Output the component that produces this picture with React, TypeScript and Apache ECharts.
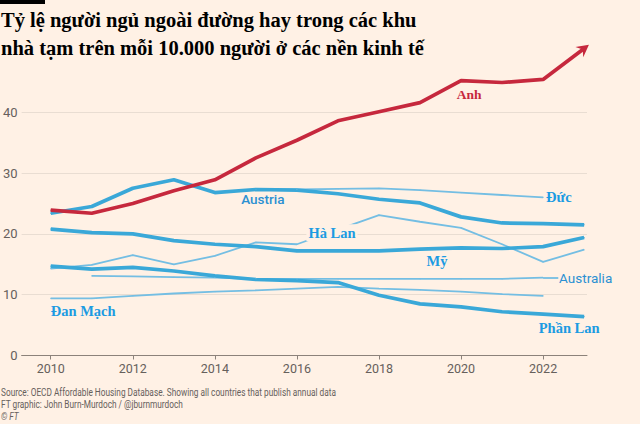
import React, { useEffect, useRef } from "react";
import * as echarts from "echarts";

const years = [2010, 2011, 2012, 2013, 2014, 2015, 2016, 2017, 2018, 2019, 2020, 2021, 2022, 2023];
const anh = [23.9, 23.4, 25.0, 27.1, 28.9, 32.5, 35.4, 38.6, 40.1, 41.6, 45.2, 44.9, 45.4, 50.5];
const austria = [23.4, 24.5, 27.5, 28.9, 26.8, 27.3, 27.2, 26.6, 25.7, 25.1, 22.8, 21.8, 21.7, 21.5];
const duc = [null, null, null, null, null, 27.3, 27.3, 27.4, 27.5, 27.2, 26.8, 26.4, 26.0, null];
const haLan = [14.3, 14.9, 16.5, 15.0, 16.4, 18.6, 18.3, 20.7, 23.1, 22.0, 21.0, 18.3, 15.4, 17.4];
const my = [20.8, 20.2, 20.0, 18.9, 18.3, 17.9, 17.2, 17.2, 17.2, 17.5, 17.7, 17.6, 17.9, 19.4];
const phanLan = [14.7, 14.2, 14.5, 13.9, 13.1, 12.5, 12.3, 12.0, 9.9, 8.5, 8.0, 7.2, 6.8, 6.4];
const australia = [null, 13.1, 13.0, 12.9, 12.8, 12.6, 12.6, 12.6, 12.6, 12.6, 12.6, 12.6, 12.8, null];
const danMach = [9.4, 9.4, 9.8, 10.2, 10.5, 10.7, 11.0, 11.3, 11.0, 10.8, 10.5, 10.1, 9.8, null];
const xTicks = [2010, 2012, 2014, 2016, 2018, 2020, 2022];

const titleLines = [
  "Tỷ lệ người ngủ ngoài đường hay trong các khu",
  "nhà tạm trên mỗi 10.000 người ở các nền kinh tế",
];
const sourceLines = [
  "Source: OECD Affordable Housing Database. Showing all countries that publish annual data",
  "FT graphic: John Burn-Murdoch / @jburnmurdoch",
  "© FT",
];

const BG = "#FFF1E5";
const THICK = "#3AA8D8";
const THIN = "#74BEE3";
const RED = "#C6283D";
const LBL = "#1C9BE2";
const SANSLBL = "#2B90D2";
const AXIS_TXT = "#66605C";
const SERIF = '"Liberation Serif", "DejaVu Serif", serif';
const SANS = 'Roboto, "Noto Sans", sans-serif';

type Pt = [number, number];

function pairs(vals: (number | null)[]): Pt[] {
  const out: Pt[] = [];
  years.forEach((y, i) => {
    const v = vals[i];
    if (v !== null && v !== undefined) out.push([y, v]);
  });
  return out;
}

function labelAt(data: Pt[], year: number, label: any, extra: any = {}) {
  return data.map((d) => (d[0] === year ? { value: d, label: { show: true, ...label }, ...extra } : d));
}

const serifLabel = (text: string, color = LBL, size = 14.5) => ({
  formatter: text,
  color,
  fontFamily: SERIF,
  fontWeight: "bold",
  fontSize: size,
});

export default function App() {
  const ref = useRef<HTMLDivElement>(null);

  useEffect(() => {
    if (!ref.current) return;
    const chart = echarts.init(ref.current, null, { renderer: "svg" });

    const thinBase = (color: string) => ({
      type: "line",
      symbol: "circle",
      symbolSize: 1,
      showSymbol: true,
      itemStyle: { color },
      lineStyle: { width: 1.8, color },
      emphasis: { disabled: true },
      silent: true,
      clip: false,
    });
    const thickBase = (color: string) => ({
      type: "line",
      symbol: "circle",
      symbolSize: 1,
      showSymbol: true,
      itemStyle: { color },
      lineStyle: { width: 3.7, color },
      emphasis: { disabled: true },
      silent: true,
      clip: false,
    });

    const anhData: any[] = labelAt(pairs(anh), 2020, {
      ...serifLabel("Anh", RED, 13.5),
      position: "bottom",
      distance: 6,
      offset: [8, 0],
    });
    const last = anhData.length - 1;
    anhData[last] = {
      value: anhData[last],
      symbol: "path://M0,20 L10,0 L20,20 L10,13 Z",
      symbolSize: [13, 12],
      symbolRotate: -53,
      itemStyle: { color: RED },
    };

    const option: any = {
      animation: false,
      backgroundColor: BG,
      grid: { left: 20, right: 53, top: 51.5, bottom: 68.5, containLabel: false },
      xAxis: {
        type: "value",
        min: 2009.29,
        max: 2023.07,
        axisLine: { show: true, lineStyle: { color: "#8C827A", width: 1 } },
        axisTick: { show: true, customValues: xTicks, length: 4, lineStyle: { color: "#8C827A" } },
        axisLabel: {
          customValues: xTicks,
          formatter: (v: number) => String(v),
          color: AXIS_TXT,
          fontSize: 12.5,
          fontFamily: SANS,
          margin: 6,
        },
        splitLine: { show: false },
      },
      yAxis: {
        type: "value",
        min: 0,
        max: 50,
        interval: 10,
        axisLine: { show: false },
        axisTick: { show: false },
        axisLabel: {
          showMaxLabel: false,
          color: AXIS_TXT,
          fontSize: 13,
          fontFamily: SANS,
          margin: 4,
        },
        splitLine: {
          show: true,
          showMaxLine: false,
          showMinLine: false,
          lineStyle: { color: "#E9DDD2", width: 1 },
        },
      },
      series: [
        {
          ...thinBase(THIN),
          name: "Đan Mạch",
          data: labelAt(pairs(danMach), 2010, {
            ...serifLabel("Đan Mạch"),
            position: "bottom",
            distance: 5,
            align: "left",
          }),
        },
        {
          ...thinBase(THIN),
          name: "Australia",
          data: pairs(australia),
          endLabel: {
            show: true,
            formatter: "Australia",
            color: SANSLBL,
            fontFamily: SANS,
            fontSize: 13.5,
            distance: 16,
          },
          markLine: {
            silent: true,
            symbol: "none",
            label: { show: false },
            lineStyle: { color: THIN, width: 1.8, type: "solid" },
            data: [[{ coord: [2022, 12.8] }, { coord: [2022.37, 12.8] }]],
          },
        },
        {
          ...thinBase(THIN),
          name: "Hà Lan",
          z: 3,
          data: labelAt(pairs(haLan), 2017, {
            ...serifLabel("Hà Lan"),
            position: "inside",
            offset: [-6, 3],
            backgroundColor: BG,
            padding: [1, 2],
          }),
        },
        {
          ...thinBase(THIN),
          name: "Đức",
          data: pairs(duc),
          endLabel: {
            show: true,
            ...serifLabel("Đức"),
            distance: 3,
          },
        },
        {
          ...thickBase(THICK),
          name: "Austria",
          data: labelAt(pairs(austria), 2015, {
            formatter: "Austria",
            color: SANSLBL,
            fontFamily: SANS,
            fontSize: 13.5,
            fontWeight: 500,
            position: "bottom",
            distance: 2,
            offset: [7, 0],
          }),
        },
        {
          ...thickBase(THICK),
          name: "Mỹ",
          data: labelAt(pairs(my), 2019, {
            ...serifLabel("Mỹ"),
            position: "bottom",
            distance: 4,
            offset: [17, 0],
          }),
        },
        {
          ...thickBase(THICK),
          name: "Phần Lan",
          data: labelAt(pairs(phanLan), 2023, {
            ...serifLabel("Phần Lan"),
            position: "bottom",
            distance: 3,
            offset: [-15, 0],
          }),
        },
        {
          ...thickBase(RED),
          name: "Anh",
          z: 5,
          data: anhData,
        },
      ],
      graphic: [
        { type: "rect", shape: { x: 0, y: 0, width: 45, height: 4 }, style: { fill: "#000" } },
        ...titleLines.map((t, i) => ({
          type: "text",
          x: 1,
          y: 20 + i * 27.5,
          style: {
            text: t,
            font: `bold 20.5px ${SERIF}`,
            fill: "#000",
            verticalAlign: "middle",
            align: "left",
          },
        })),
        ...sourceLines.map((t, i) => ({
          type: "text",
          x: 1,
          y: 391.7 + i * 12.3,
          scaleX: 0.72,
          style: {
            text: t,
            font: `${i === 2 ? "italic " : ""}11.5px ${SANS}`,
            fill: AXIS_TXT,
            verticalAlign: "middle",
            align: "left",
          },
        })),
      ],
    };

    chart.setOption(option);
    return () => chart.dispose();
  }, []);

  return (
    <div
      ref={ref}
      style={{ position: "fixed", left: 0, top: 0, width: 640, height: 424, background: BG }}
    />
  );
}
